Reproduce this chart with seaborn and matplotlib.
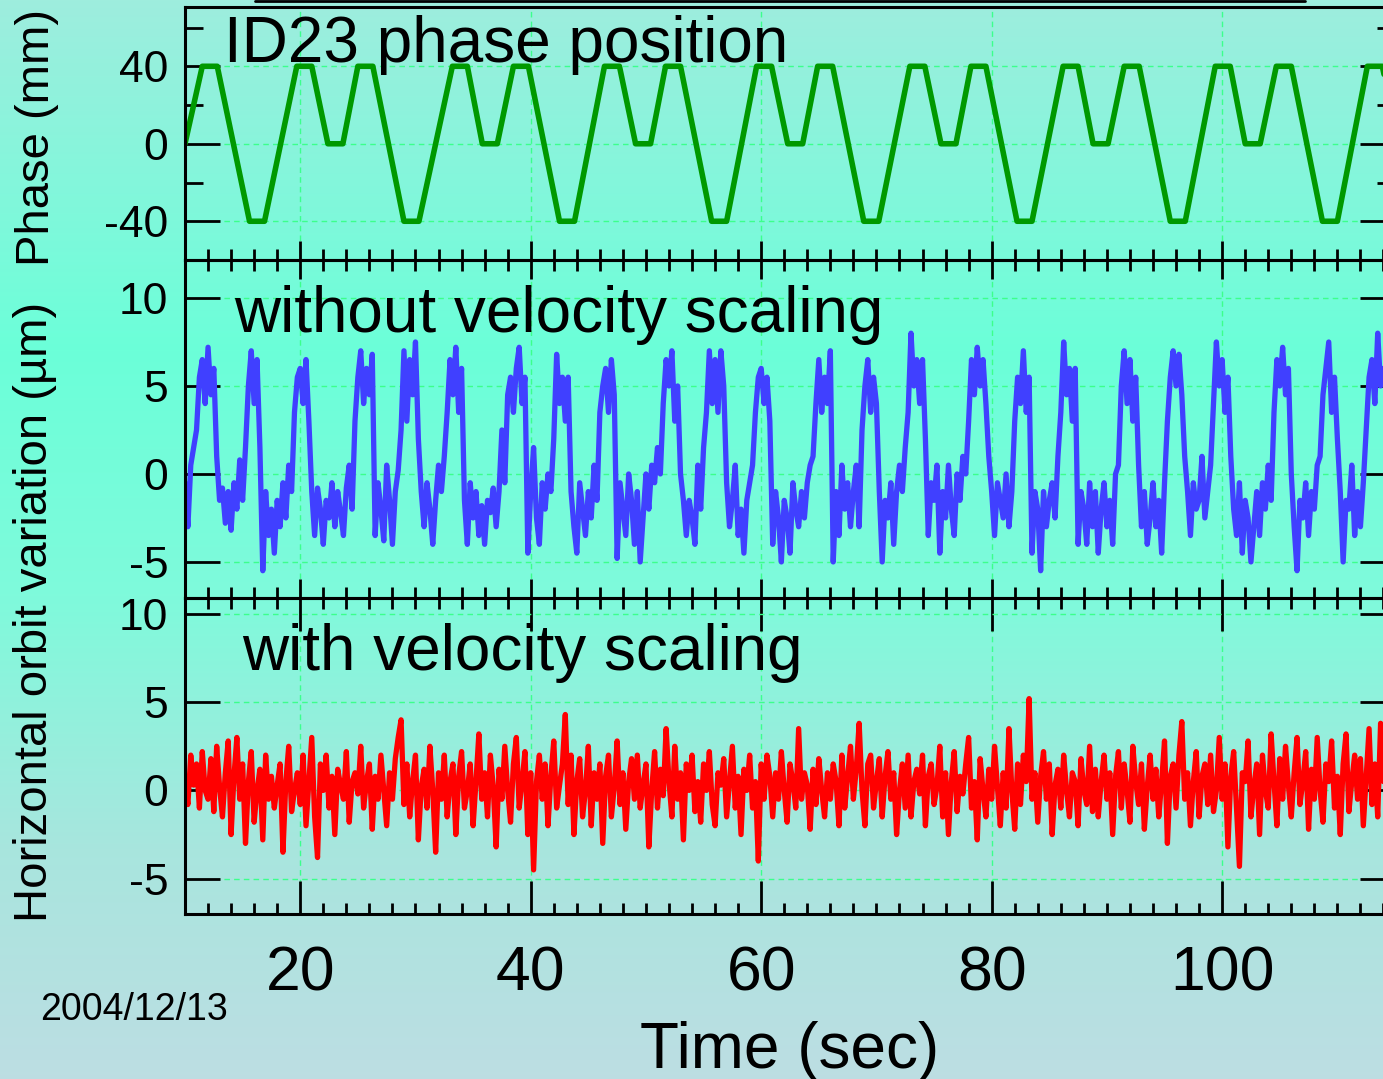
import numpy as np
import matplotlib
matplotlib.use("Agg")
import matplotlib.pyplot as plt
from matplotlib.ticker import MultipleLocator
from matplotlib.lines import Line2D
import seaborn as sns

# ID23 phase (mm) -- trapezoid vertices
phase_time = [10.0, 11.5, 12.8, 15.6, 16.9,
              19.7, 21.0, 22.4, 23.7, 25.0, 26.3, 29.0, 30.3,
              33.2, 34.5, 35.8, 37.1, 38.5, 39.8, 42.5, 43.8,
              46.4, 47.7, 49.1, 50.4, 51.7, 53.0, 55.7, 57.0,
              59.6, 60.9, 62.3, 63.6, 64.9, 66.2, 68.9, 70.2,
              72.9, 74.2, 75.6, 76.9, 78.2, 79.5, 82.2, 83.5,
              86.2, 87.5, 88.8, 90.1, 91.5, 92.8, 95.5, 96.8,
              99.4, 100.7, 102.0, 103.3, 104.7, 106.0, 108.7, 110.0,
              112.6, 113.9, 115.3]
phase_mm = [0, 40, 40, -40, -40,
            40, 40, 0, 0, 40, 40, -40, -40,
            40, 40, 0, 0, 40, 40, -40, -40,
            40, 40, 0, 0, 40, 40, -40, -40,
            40, 40, 0, 0, 40, 40, -40, -40,
            40, 40, 0, 0, 40, 40, -40, -40,
            40, 40, 0, 0, 40, 40, -40, -40,
            40, 40, 0, 0, 40, 40, -40, -40,
            40, 40, 0]

# orbit samples, one every 0.25 s starting at t = 10 s
t_start = 10.0
t_step = 0.25

orbit_raw = [
    -0.5, -3.0, 0.5, 1.5,   2.5, 5.5, 6.5, 4.0,   7.2, 4.5, 6.0, 1.0,   -1.5, -0.8, -2.8, -1.0,
    -3.2, -0.5, -2.0, 0.8,  -1.5, 1.5, 5.0, 7.0,  4.0, 6.5, 1.5, -5.5,  -1.0, -3.5, -2.0, -4.5,
    -1.5, -3.0, -0.5, -2.5, 0.5, -1.0, 3.5, 5.5,  6.0, 4.0, 6.5, 3.0,   -1.0, -3.5, -0.8, -2.0,
    -4.0, -1.5, -2.5, -0.5, -3.0, -1.0, -2.2, -3.5, -0.8, 0.5, -2.0, 3.0, 5.5, 7.0, 4.0, 6.0,
    4.5, 6.8, -3.5, -0.5,   -2.0, -3.8, 0.5, -1.5, -4.0, -1.0, 0.2, 2.5,  7.0, 3.0, 6.5, 4.5,
    7.5, 2.0, -1.0, -3.0,   -0.5, -2.0, -4.0, -1.5, 0.5, -1.0, 1.0, 3.5,  6.5, 4.5, 7.2, 3.5,
    6.0, -1.5, -4.0, -0.5,  -2.5, -1.0, -3.5, -1.8, -4.0, -1.5, -2.2, -0.8, -3.0, -1.0, 2.5, -0.5,
    4.5, 5.5, 3.5, 6.0,     7.2, 4.0, 5.5, -4.5,  -1.0, 1.5, -2.5, -4.0,  -0.5, -2.0, 0.0, -1.0,
    2.0, 6.8, 4.0, 5.5,     3.0, 5.5, -1.0, -3.0, -4.5, -0.5, -2.0, -3.5, -1.0, -2.5, 0.5, -1.5,
    3.5, 5.0, 6.0, 3.5,     6.5, 4.5, -4.8, -0.5, -2.0, -3.5, 0.0, -1.5, -4.0, -1.0, -5.0, -2.5,
    0.0, -2.0, 0.5, -0.5,   1.5, 0.0, 4.0, 6.5,   5.0, 7.0, 3.0, 5.0,    0.0, -1.5, -3.5, -1.5,
    -2.5, -4.0, 0.5, -2.0,  1.5, 3.5, 7.0, 4.0,   6.5, 3.5, 7.0, 5.0,    -0.5, -3.0, -1.5, 0.5,
    -3.5, -2.0, -4.5, -1.5, -0.5, 0.5, 3.5, 5.5,  6.0, 4.0, 5.5, 3.0,    -4.0, -1.0, -2.5, -5.0,
    -1.5, -2.5, -4.5, -0.5, -2.0, -3.0, -1.0, -2.5, -0.5, 0.5, 1.0, 4.0,  6.5, 3.5, 5.5, 4.0,
    7.0, -5.0, -1.0, -3.5,  0.5, -2.0, -0.5, -3.0, -1.0, 0.5, -3.0, 2.5,  5.0, 6.5, 3.5, 5.5,
    4.0, -1.0, -5.0, -1.5,  -2.5, -0.5, -4.0, -1.0, 0.5, -1.0, 1.5, 3.5,  8.0, 5.0, 6.5, 4.0,
    6.5, 2.0, -3.5, -0.5,   -1.5, 0.5, -4.5, -1.0, -2.5, 0.5, -2.0, -3.5, 0.0, -1.5, 1.0, 0.0,
    3.0, 6.5, 4.5, 7.2,     5.0, 6.5, 4.0, 1.0,   -1.0, -3.5, -0.5, -1.5, -2.5, 0.0, -3.0, -1.0,
    3.0, 5.5, 4.0, 7.0,     3.5, 5.5, -4.5, -1.0, -2.0, -5.5, -1.0, -3.0, -1.5, -0.5, -2.5, 1.0,
    3.5, 7.5, 4.5, 6.0,     3.0, 6.0, -4.0, -1.0, -2.0, -4.0, -0.5, -3.0, -1.0, -4.5, -2.0, -0.5,
    -3.0, -1.5, -4.0, 0.0,  0.5, 5.0, 7.0, 4.0,   6.5, 3.0, 5.5, 0.5,    -3.0, -1.0, -4.0, -2.5,
    -0.5, -3.0, -1.5, -4.5, -0.5, 3.0, 5.5, 7.0,  5.0, 6.8, 4.5, 1.0,    -1.0, -3.5, -0.5, -2.0,
    -1.5, 1.0, -2.5, -1.0,  0.5, 4.0, 7.5, 5.0,   6.5, 3.5, 5.5, 1.0,    -2.0, -3.5, -0.5, -4.5,
    -1.5, -2.5, -5.0, -3.0, -1.0, -3.5, -0.5, -2.0, 0.5, -1.5, 3.5, 6.5,  5.0, 7.2, 4.5, 6.0,
    0.0, -3.0, -5.5, -1.5,  -2.5, -0.5, -3.5, -1.0, -2.0, 0.5, 1.0, 4.5,  6.0, 7.5, 3.5, 5.5,
    2.0, -1.0, -5.0, -1.5,  -2.0, 0.5, -3.5, -1.0, -3.0, -0.5, 2.5, 5.5,  6.5, 4.0, 8.0, 5.0,
    6.0]

orbit_scaled = [
    0.5, -0.8, 2.0, 0.3,    1.5, -1.0, 2.2, 0.0,   -0.5, 1.8, -1.2, 2.5,  0.2, -1.5, 1.0, 2.8,
    -2.5, 0.8, 3.0, -0.5,   1.5, -3.0, 0.5, 2.2,   -1.8, 0.0, 1.2, -2.8,  2.0, -0.5, 0.8, -1.0,
    0.3, 1.5, -3.5, 0.5,    2.5, -1.2, 0.0, 1.0,   -0.8, 2.0, -2.0, 0.5,  3.0, -1.5, -3.8, 1.5,
    0.0, 2.0, -1.0, 0.8,    -2.5, 1.2, 0.3, -0.5,  2.2, -1.8, 0.5, 1.0,   -0.2, 2.5, -1.0, 0.5,
    1.5, -2.2, 0.8, -0.5,   2.0, 0.0, -2.0, 1.0,   -0.5, 1.8, 3.0, 4.0,   -0.8, 1.5, -1.5, 0.5,
    2.0, -2.8, 0.2, 1.2,    -1.0, 2.5, 0.0, -3.5,  1.0, -0.5, 2.0, -1.5,  0.5, 1.5, -2.5, 0.8,
    2.2, -1.0, 0.0, 1.5,    -2.0, 0.5, 3.2, -0.5,  1.0, -1.5, 2.0, 0.2,   -3.2, 1.2, -0.5, 2.5,
    0.0, -1.8, 1.5, 3.0,    -1.0, 0.5, 2.2, -2.5,  1.0, -4.5, 0.5, 2.0,   -0.5, 1.5, -2.0, 0.8,
    2.8, -1.0, 0.3, 1.5,    4.3, -0.8, 2.0, -2.5,  0.5, 1.8, -1.5, 0.0,   2.5, -2.0, 1.0, -0.5,
    1.5, -3.0, 0.8, 2.0,    -1.5, 0.2, 2.8, -0.8,  1.0, -2.2, 0.5, 1.8,   -0.5, 2.0, -1.0, 0.3,
    1.5, -3.2, 0.0, 2.2,    -1.0, 1.2, -0.3, 3.5,  0.5, -1.5, 2.5, -0.5,  1.0, -2.8, 1.5, 0.0,
    2.0, -1.2, 0.5, -1.8,   1.5, 0.0, 2.2, -0.8,   -2.0, 1.0, 0.3, 1.8,   -1.5, 0.5, 2.5, -1.0,
    0.8, -2.5, 1.2, 0.0,    2.0, -1.0, 0.5, -4.0,  1.5, -0.5, 2.0, 0.8,   -1.5, 1.0, -0.5, 2.2,
    0.0, -1.8, 1.5, 0.5,    -1.0, 3.5, -0.5, 1.0,  0.3, -2.2, 1.2, -0.8,  1.8, 0.0, -1.5, 1.0,
    -0.5, 1.5, 0.5, -2.0,   2.0, -1.0, 0.8, 2.5,   -0.5, 1.2, 3.8, 0.0,   -2.0, 1.5, 2.0, -1.0,
    0.5, 1.8, -1.5, 0.8,    2.2, -0.5, 1.0, -2.5,  0.0, 1.5, -1.0, 2.0,   -1.5, 0.5, 1.2, -0.2,
    2.0, -2.0, 0.8, 1.5,    -0.8, 0.2, 2.5, -1.5,  1.0, -2.5, 0.5, 2.2,   -1.2, 0.8, -0.2, 1.5,
    3.0, -1.0, 0.5, -2.8,   1.8, 0.0, -1.5, 1.2,   -0.5, 2.5, 0.2, -2.0,  1.0, -1.0, 3.5, 0.0,
    -2.2, 1.5, -0.8, 2.0,   0.5, 5.2, -0.5, 1.0,   -1.8, 0.8, 2.2, -0.5,  1.5, -2.5, 0.3, 1.2,
    -1.0, 2.0, 0.0, -1.5,   1.0, 0.5, -2.0, 1.8,   0.0, -0.8, 2.5, -1.2,  1.2, -1.5, 0.5, 2.0,
    -0.5, 1.0, -2.5, 0.8,   2.2, -1.0, 1.5, 0.0,   -1.8, 2.5, 0.5, -0.8,  1.5, -2.2, 0.2, 2.0,
    -0.5, 1.2, -1.5, 0.5,   2.8, -3.0, 0.8, 1.5,   -1.0, 2.0, 3.9, -0.5,  1.0, -2.0, 0.5, 2.2,
    -1.5, 0.8, 1.5, -0.8,   2.0, -1.2, 0.0, 3.0,   -0.5, 1.5, -3.2, 0.8,  2.2, -1.0, -4.3, 1.0,
    0.5, 2.8, -1.5, 0.2,    1.5, -2.5, 2.0, 0.0,   -1.0, 3.2, 0.5, -2.0,  1.8, -0.5, 2.5, 0.3,
    -1.5, 1.0, 3.0, -0.8,   0.5, 2.2, -2.2, 1.2,   -0.5, 3.0, 0.0, -1.8,  1.5, 0.5, 2.8, -1.0,
    0.8, -2.5, 1.5, 3.2,    -1.2, 0.5, 2.0, -0.5,  1.8, -2.0, 0.8, 3.5,   -0.8, 1.5, -1.5, 3.8,
    0.5]

x_ticks = [20, 40, 60, 80, 100]
phase_ticks = [-40, 0, 40]
orbit_ticks = [-5, 0, 5, 10]

sns.set_style("ticks")
plt.rcParams['font.family'] = ['Liberation Sans', 'DejaVu Sans']
plt.rcParams['axes.unicode_minus'] = False
plt.rcParams['text.color'] = 'black'
plt.rcParams['xtick.color'] = 'black'
plt.rcParams['ytick.color'] = 'black'
plt.rcParams['axes.labelcolor'] = 'black'

W, H = 1383, 1079
fig = plt.figure(figsize=(W / 100, H / 100), dpi=100)

# background gradient
bg = fig.add_axes([0, 0, 1, 1], zorder=-10)
stops = [0, 350, 600, 850, 1079]
cols = np.array([[0.62, 0.93, 0.87], [0.42, 1.0, 0.85], [0.50, 0.98, 0.86],
                 [0.66, 0.90, 0.87], [0.74, 0.87, 0.89]])
yy = np.arange(H)
grad = np.stack([np.interp(yy, stops, cols[:, k]) for k in range(3)], axis=1)
bg.imshow(grad[:, None, :], aspect='auto', extent=[0, 1, 0, 1])
bg.axis('off')

t_orbit = t_start + t_step * np.arange(len(orbit_raw))

left = 185 / W
width = (1395 - 185) / W

def panel(top_px, bot_px):
    return fig.add_axes([left, 1 - bot_px / H, width, (bot_px - top_px) / H])

ax1 = panel(7, 260)
ax2 = panel(260, 598)
ax3 = panel(598, 914)

grid_col = '#3cff8c'
for ax in (ax1, ax2, ax3):
    ax.set_facecolor('none')
    ax.set_axisbelow(True)
    for s in ax.spines.values():
        s.set_linewidth(2.2)
        s.set_color('black')
    ax.set_xlim(10, 115)
    ax.set_xticks(x_ticks)
    ax.xaxis.set_minor_locator(MultipleLocator(2))
    ax.grid(True, which='major', color=grid_col, linestyle=(0, (4, 3)), linewidth=1.0)
    ax.tick_params(axis='y', which='major', direction='in', length=25, width=2,
                   labelsize=32, pad=12, right=True, left=True, colors='black')
    ax.tick_params(axis='y', which='minor', direction='in', length=13, width=2,
                   right=True, left=True, colors='black')
    ax.tick_params(axis='x', which='major', direction='in', length=14, width=2,
                   top=True, bottom=True, labelbottom=False, labelsize=45, pad=22,
                   colors='black')
    ax.tick_params(axis='x', which='minor', direction='in', length=8, width=2,
                   top=True, bottom=True, colors='black')

ax1.tick_params(axis='x', which='both', top=False)
ax3.tick_params(axis='x', which='major', labelbottom=True)
ax3.tick_params(axis='x', which='major', length=24)

sns.lineplot(x=phase_time, y=phase_mm, ax=ax1, color='#009900', linewidth=4.0,
             estimator=None, sort=False)
sns.lineplot(x=t_orbit, y=orbit_raw, ax=ax2, color='#4040ff', linewidth=3.8,
             estimator=None, sort=False)
sns.lineplot(x=t_orbit, y=orbit_scaled, ax=ax3, color='#ff0000', linewidth=3.8,
             estimator=None, sort=False)

ax1.set_ylim(-60, 70.6)
ax1.set_yticks(phase_ticks)
ax1.yaxis.set_minor_locator(MultipleLocator(20))
ax2.set_ylim(-7.05, 12.16)
ax2.set_yticks(orbit_ticks)
ax3.set_ylim(-7.0, 10.9)
ax3.set_yticks(orbit_ticks)
for ax in (ax1, ax2, ax3):
    ax.set_xlabel('')
    ax.set_ylabel('')

# panel titles
fig.text(224 / W, 1 - 62 / H, 'ID23 phase position', fontsize=46, va='baseline')
fig.text(234 / W, 1 - 332 / H, 'without velocity scaling', fontsize=46, va='baseline')
fig.text(242 / W, 1 - 670 / H, 'with velocity scaling', fontsize=46, va='baseline')

# axis labels
fig.text(37 / W, 1 - 137 / H, 'Phase (mm)', fontsize=34, rotation=90,
         ha='center', va='center')
fig.text(35 / W, 1 - 612 / H, 'Horizontal orbit variation (µm)', fontsize=34,
         rotation=90, ha='center', va='center')
fig.text(790 / W, 1 - 1068 / H, 'Time (sec)', fontsize=46, ha='center', va='baseline')
fig.text(40 / W, 1 - 1020 / H, '2004/12/13', fontsize=27, va='baseline')

fig.add_artist(Line2D([255 / W, 1305 / W], [1 - 1 / H, 1 - 1 / H], color='black',
                      linewidth=2.0, transform=fig.transFigure))

fig.savefig('out.png', dpi=100)
